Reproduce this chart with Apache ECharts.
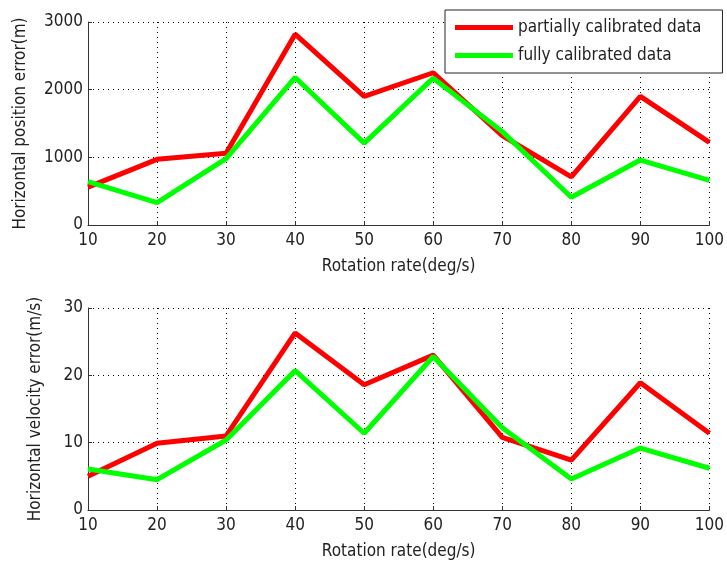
<!DOCTYPE html>
<html>
<head>
<meta charset="utf-8">
<script src="https://cdn.jsdelivr.net/npm/echarts@6/dist/echarts.min.js"></script>
<style>
  html, body { margin: 0; padding: 0; background: #fff; }
  #chart { width: 727px; height: 562px; }
</style>
</head>
<body>
<div id="chart"></div>
<script>
// rotation rate (deg/s)
const rates = [10, 20, 30, 40, 50, 60, 70, 80, 90, 100]
// horizontal position error (m)
const posPartial = [560, 970, 1060, 2820, 1900, 2250, 1320, 710, 1900, 1220]
const posFully = [640, 330, 980, 2180, 1210, 2170, 1380, 410, 960, 660]
// horizontal velocity error (m/s)
const velPartial = [5, 9.9, 11, 26.3, 18.6, 23, 10.8, 7.4, 18.9, 11.4]
const velFully = [6.1, 4.5, 10.4, 20.7, 11.4, 22.8, 12.2, 4.6, 9.2, 6.2]

const seriesNames = ['partially calibrated data', 'fully calibrated data']
const RED = '#ff0000'
const GREEN = '#00ff00'
const FONT = '"DejaVu Sans Condensed", "Liberation Sans", Arial, sans-serif'
const FS = 17

const pairs = ys => rates.map((x, i) => [x, ys[i]])

const grid = [
  { left: 88, right: 12, top: 22, height: 203 },
  { left: 88, right: 12, top: 308, height: 202 },
]

const dotted = { color: '#000', width: 1, type: [1, 4] }

function xAxis(gridIndex) {
  return {
    type: 'value', gridIndex, min: 10, max: 100, interval: 10,
    name: 'Rotation rate(deg/s)', nameLocation: 'middle', nameGap: 33,
    nameTextStyle: { color: '#222', fontFamily: FONT, fontSize: FS },
    axisLine: { show: true, lineStyle: { color: '#333', width: 1 } },
    axisTick: { show: true, inside: true, length: 4, lineStyle: { color: '#333' } },
    axisLabel: { color: '#222', fontFamily: FONT, fontSize: FS, margin: 7, formatter: v => String(v) },
    splitLine: { show: true, lineStyle: dotted },
  }
}

function yAxis(gridIndex, max, interval, name, nameGap) {
  return {
    type: 'value', gridIndex, min: 0, max, interval,
    name, nameLocation: 'middle', nameGap,
    nameTextStyle: { color: '#222', fontFamily: FONT, fontSize: FS },
    axisLine: { show: true, lineStyle: { color: '#333', width: 1 } },
    axisTick: { show: true, inside: true, length: 4, lineStyle: { color: '#333' } },
    axisLabel: { color: '#222', fontFamily: FONT, fontSize: FS, margin: 5, formatter: v => String(v) },
    splitLine: { show: true, lineStyle: dotted },
  }
}

function line(name, data, color, idx) {
  return {
    name, type: 'line', xAxisIndex: idx, yAxisIndex: idx,
    data: pairs(data), symbol: 'none', animation: false,
    lineStyle: { color, width: 5 }, itemStyle: { color },
  }
}

const chart = echarts.init(document.getElementById('chart'))
chart.setOption({
  backgroundColor: '#fff',
  animation: false,
  grid,
  legend: {
    data: seriesNames,
    orient: 'vertical',
    left: 445, top: 10,
    padding: [9, 21, 9, 10],
    itemGap: 11,
    itemWidth: 58, itemHeight: 5,
    icon: 'rect',
    borderColor: '#222', borderWidth: 1,
    backgroundColor: '#fff',
    textStyle: { color: '#222', fontFamily: FONT, fontSize: FS },
  },
  xAxis: [xAxis(0), xAxis(1)],
  yAxis: [
    yAxis(0, 3000, 1000, 'Horizontal position error(m)', 59),
    yAxis(1, 30, 10, 'Horizontal velocity error(m/s)', 44),
  ],
  series: [
    line(seriesNames[0], posPartial, RED, 0),
    line(seriesNames[1], posFully, GREEN, 0),
    line(seriesNames[0], velPartial, RED, 1),
    line(seriesNames[1], velFully, GREEN, 1),
  ],
})
</script>
</body>
</html>
